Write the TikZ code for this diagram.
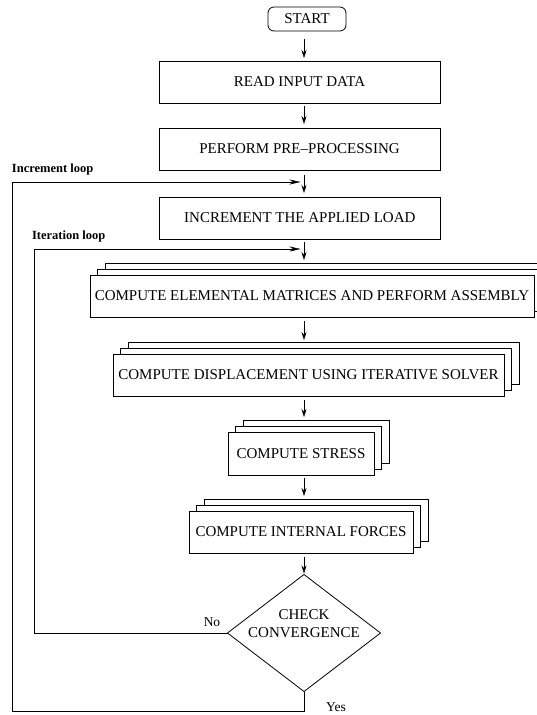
\documentclass[tikz,border=0pt]{standalone}
\usepackage{fontspec}
\setmainfont{Liberation Serif}
\usetikzlibrary{arrows.meta,shapes.geometric,calc}
\pgfdeclarelayer{back}
\pgfsetlayers{back,main}
\begin{document}
\begin{tikzpicture}[x=1pt,y=-1pt,line width=0.8pt,
  every node/.style={inner sep=0pt,outer sep=0pt},
  txt/.style={font=\fontsize{15}{18}\selectfont},
  proc/.style={draw,fill=white,txt,minimum height=42pt},
  layerbox/.style={draw,fill=white},
  flow/.style={-{Stealth[length=8pt,width=5pt]}},
  loopflow/.style={-{Stealth[length=11pt,width=5pt]}},
  looptitle/.style={font=\bfseries\fontsize{12.5}{14}\selectfont,anchor=west},
  answer/.style={font=\fontsize{13.5}{15}\selectfont}]
\useasboundingbox (0,0) rectangle (537,715);

% main column of the flow
\coordinate (col) at (304,0);
\coordinate (outerx) at (12,0);
\coordinate (innerx) at (34,0);
\coordinate (incjoin) at (304,182);
\coordinate (itjoin) at (304,249);
\coordinate (yesturn) at (304,711);

% process steps
\node[draw,rounded corners=6pt,minimum width=78pt,minimum height=24pt,txt] (start) at (307,19) {START};
\node[proc,minimum width=281pt] (read) at (299.5,82) {READ INPUT DATA};
\node[proc,minimum width=281pt] (pre) at (299.5,149) {PERFORM PRE--PROCESSING};
\node[proc,minimum width=281pt] (inc) at (299.8,218) {INCREMENT THE APPLIED LOAD};
\node[proc,minimum width=444pt] (elem) at (312,296) {COMPUTE ELEMENTAL MATRICES AND PERFORM ASSEMBLY};
\node[proc,minimum width=391pt] (disp) at (308.5,375) {COMPUTE DISPLACEMENT USING ITERATIVE SOLVER};
\node[proc,minimum width=146pt,minimum height=43pt] (stress) at (301,453.5) {COMPUTE STRESS};
\node[proc,minimum width=224pt] (force) at (301,532) {COMPUTE INTERNAL FORCES};
\node[draw,diamond,aspect=1.3077,minimum width=153pt,minimum height=117pt] (check) at (304,633) {};
\node[txt,align=center] (checktxt) at (304,624) {CHECK\\CONVERGENCE};

% stacked copies behind the parallel steps
\begin{pgfonlayer}{back}
\foreach \n in {elem,disp,stress,force} {
  \draw[layerbox] ([shift={(15,-12)}]\n.south west) rectangle ([shift={(15,-12)}]\n.north east);
  \draw[layerbox] ([shift={(7.5,-6)}]\n.south west) rectangle ([shift={(7.5,-6)}]\n.north east);
}
\end{pgfonlayer}

% loop titles and branch labels
\node[looptitle] (inclbl) at (12,169) {Increment loop};
\node[looptitle] (itlbl) at (32,236) {Iteration loop};
\node[answer] (nolbl) at (212,622) {No};
\node[answer] (yeslbl) at (336,707) {Yes};

% forward connectors
\draw[flow,shorten <=8pt,shorten >=3pt] (start.south -| col) -- (read.north -| col);
\draw[flow,shorten <=3pt,shorten >=4pt] (read.south -| col) -- (pre.north -| col);
\draw[flow,shorten <=5pt,shorten >=4pt] (pre.south -| col) -- (inc.north -| col);
\draw[flow,shorten <=3pt,shorten >=3pt] (inc.south -| col) -- ([yshift=12pt]elem.north -| col);
\draw[flow,shorten <=4pt,shorten >=2pt] (elem.south -| col) -- ([yshift=12pt]disp.north -| col);
\draw[flow,shorten <=4pt,shorten >=3pt] (disp.south -| col) -- ([yshift=12pt]stress.north -| col);
\draw[flow,shorten <=3pt,shorten >=3pt] (stress.south -| col) -- ([yshift=12pt]force.north -| col);
\draw[flow,shorten <=4pt,shorten >=1pt] (force.south -| col) -- (check.north);

% loops back
\draw[loopflow,shorten >=3.5pt] (check.west) -- (check.west -| innerx) -- (innerx |- itjoin) -- (itjoin);
\draw[loopflow,shorten >=3.5pt] (check.south) -- (yesturn) -- (yesturn -| outerx) -- (outerx |- incjoin) -- (incjoin);
\end{tikzpicture}
\end{document}
